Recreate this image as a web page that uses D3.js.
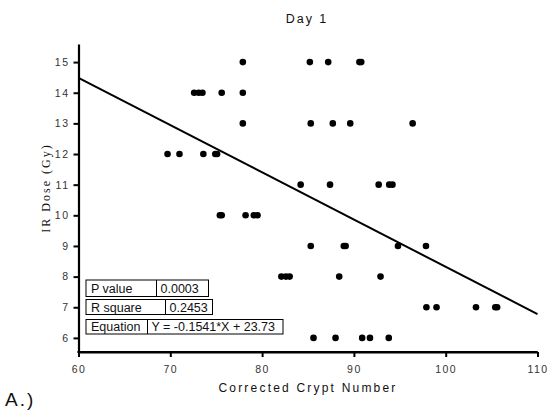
<!DOCTYPE html>
<html><head><meta charset="utf-8">
<script src="https://cdn.jsdelivr.net/npm/d3@7"></script>
<style>body{margin:0;background:#fff}svg{display:block}</style>
</head><body>
<svg id="c" width="550" height="412"></svg>
<script>
// Data: corrected crypt number per dose (Gy)
const doses = [15, 14, 13, 12, 11, 10, 9, 8, 7, 6];
const cryptNumbers = [
  [77.9, 85.2, 87.2, 90.6, 90.8],
  [72.6, 73.1, 73.5, 75.6, 77.9],
  [77.9, 85.3, 87.7, 89.6, 96.4],
  [69.7, 71.0, 73.6, 74.9, 75.1],
  [84.2, 87.4, 92.7, 93.85, 94.2],
  [75.4, 75.6, 78.2, 79.1, 79.5],
  [85.3, 88.9, 89.1, 94.8, 97.85],
  [82.1, 82.6, 83.0, 88.4, 92.9],
  [97.9, 99.0, 103.3, 105.4, 105.6],
  [85.6, 88.0, 90.9, 91.75, 93.8]
];
const xTicks = [60, 70, 80, 90, 100, 110];
const yTicks = [6, 7, 8, 9, 10, 11, 12, 13, 14, 15];
const slope = -0.1541, intercept = 23.73;
const statsRows = [
  ["P value", "0.0003"],
  ["R square", "0.2453"],
  ["Equation", "Y = -0.1541*X + 23.73"]
];

const points = [];
doses.forEach((d, i) => cryptNumbers[i].forEach(v => points.push({x: v, y: d})));

const svg = d3.select("#c");
const x = d3.scaleLinear().domain([60, 110]).range([78.5, 537.5]);
const y = d3.scaleLinear().domain([5.54, 15.59]).range([352, 44]);

const font = "'Liberation Sans', Arial, sans-serif";

// Axes
const xAxis = svg.append("g").attr("transform", "translate(0,352)")
  .call(d3.axisBottom(x).tickValues(xTicks).tickSize(5).tickPadding(9).tickSizeOuter(0));
const yAxis = svg.append("g").attr("transform", "translate(78.5,0)")
  .call(d3.axisLeft(y).tickValues(yTicks).tickSize(5).tickPadding(4).tickSizeOuter(0));
[xAxis, yAxis].forEach(g => {
  g.select(".domain").attr("stroke", "#000").attr("stroke-width", 2.2);
  g.selectAll(".tick line").attr("stroke", "#000").attr("stroke-width", 2);
  g.selectAll(".tick text").attr("fill", "#333").style("font-family", font)
    .style("font-size", "10.5px").style("letter-spacing", "1.5px");
});
svg.append("line").attr("x1", x(60) - 1.1).attr("x2", x(110)).attr("y1", 352).attr("y2", 352)
  .attr("stroke", "#000").attr("stroke-width", 2.2);

// Regression line
svg.append("line")
  .attr("x1", x(60)).attr("y1", y(slope * 60 + intercept))
  .attr("x2", x(110)).attr("y2", y(slope * 110 + intercept))
  .attr("stroke", "#000").attr("stroke-width", 2);

// Points
svg.append("g").selectAll("circle").data(points).join("circle")
  .attr("cx", d => x(d.x)).attr("cy", d => y(d.y)).attr("r", 3.3).attr("fill", "#000");

// Stats table
const boxes = [
  {top: 280, h: 16.5, w1: 70.5, w2: 52},
  {top: 299.5, h: 15, w1: 79.5, w2: 47},
  {top: 319.5, h: 14.5, w1: 61.5, w2: 135.5}
];
const tbl = svg.append("g");
statsRows.forEach((r, i) => {
  const b = boxes[i], left = 86;
  tbl.append("rect").attr("x", left).attr("y", b.top).attr("width", b.w1 + b.w2).attr("height", b.h)
    .attr("fill", "#fff").attr("stroke", "#000").attr("stroke-width", 1);
  tbl.append("line").attr("x1", left + b.w1).attr("x2", left + b.w1).attr("y1", b.top).attr("y2", b.top + b.h)
    .attr("stroke", "#000").attr("stroke-width", 1);
  tbl.append("text").attr("x", left + 5).attr("y", b.top + b.h / 2 + 4.5).text(r[0])
    .style("font-family", font).style("font-size", "12.5px").attr("fill", "#111");
  tbl.append("text").attr("x", left + b.w1 + 4).attr("y", b.top + b.h / 2 + 4.5).text(r[1])
    .style("font-family", font).style("font-size", "12.5px").attr("fill", "#111");
});

// Titles
svg.append("text").attr("x", 307).attr("y", 23).attr("text-anchor", "middle").text("Day 1")
  .style("font-family", font).style("font-size", "12.5px").style("letter-spacing", "2px").attr("fill", "#111");
svg.append("text").attr("x", 308).attr("y", 392).attr("text-anchor", "middle").text("Corrected Crypt Number")
  .style("font-family", font).style("font-size", "12px").style("letter-spacing", "2.2px").attr("fill", "#111");
svg.append("text").attr("transform", "translate(50,188) rotate(-90)").attr("text-anchor", "middle")
  .text("IR Dose (Gy)")
  .style("font-family", "'Liberation Serif', 'Times New Roman', serif").style("font-size", "12px")
  .style("letter-spacing", "2px").attr("fill", "#111");
svg.append("text").attr("x", 5).attr("y", 406).text("A.)")
  .style("font-family", font).style("font-size", "19px").style("letter-spacing", "2px").attr("fill", "#111");
</script>
</body></html>
